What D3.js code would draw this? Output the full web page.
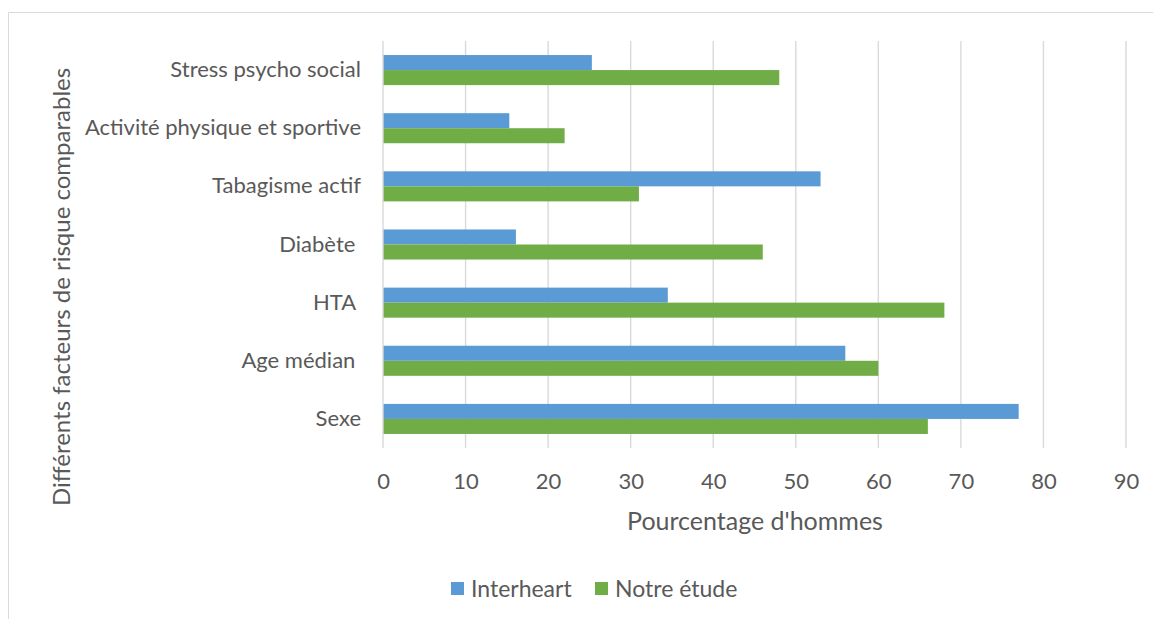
<!DOCTYPE html>
<html>
<head>
<meta charset="utf-8">
<script src="https://cdn.jsdelivr.net/npm/d3@7"></script>
<style>
  html, body { margin: 0; padding: 0; background: #fff; }
  svg text { font-family: Lato, "Open Sans", sans-serif; fill: #595959; white-space: pre; }
</style>
</head>
<body>
<svg id="chart" width="1153" height="619"></svg>
<script>
// Risk factors, top to bottom
const categories = [
  "Stress psycho social",
  "Activité physique et sportive",
  "Tabagisme actif",
  "Diabète ",
  "HTA ",
  "Age médian ",
  "Sexe"
];
// Percentage of men per factor
const interheart = [25.3, 15.3, 53, 16.1, 34.5, 56, 77];
const notreEtude = [48, 22, 31, 46, 68, 60, 66];
const seriesNames = ["Interheart", "Notre étude"];
const seriesColors = ["#5B9BD5", "#70AD47"];
const xTicks = [0, 10, 20, 30, 40, 50, 60, 70, 80, 90];

const svg = d3.select("#chart");
const W = 1153, H = 619;
const m = { left: 383, right: 27, top: 41, bottom: 171 };

// outer frame (top and left edges visible)
svg.append("path")
  .attr("d", `M8.5,${H} V12.5 H${W}`)
  .attr("fill", "none").attr("stroke", "#D9D9D9").attr("stroke-width", 1);

const x = d3.scaleLinear().domain([0, 90]).range([m.left, W - m.right]);
const y = d3.scaleBand().domain(categories)
  .range([m.top, H - m.bottom]).paddingInner(0.483).paddingOuter(0.2415);
const ySub = d3.scaleBand().domain(seriesNames).range([0, y.bandwidth()]);

// vertical gridlines
svg.append("g").selectAll("line").data(xTicks.slice(1)).join("line")
  .attr("x1", d => x(d)).attr("x2", d => x(d))
  .attr("y1", m.top).attr("y2", H - m.bottom)
  .attr("stroke", "#D9D9D9").attr("stroke-width", 1.4);

// bars
const rows = categories.map((c, i) => ({ c, vals: [interheart[i], notreEtude[i]] }));
const g = svg.append("g");
rows.forEach(r => {
  r.vals.forEach((v, j) => {
    g.append("rect")
      .attr("x", x(0))
      .attr("y", y(r.c) + ySub(seriesNames[j]))
      .attr("width", x(v) - x(0))
      .attr("height", ySub.bandwidth())
      .attr("fill", seriesColors[j]);
  });
});

// category axis line
svg.append("line")
  .attr("x1", x(0)).attr("x2", x(0))
  .attr("y1", m.top).attr("y2", H - m.bottom)
  .attr("stroke", "#D9D9D9").attr("stroke-width", 1.4);

// category labels
const yAxis = d3.axisLeft(y).tickSize(0).tickPadding(22);
const yg = svg.append("g").attr("transform", `translate(${x(0)},0)`).call(yAxis);
yg.select(".domain").remove();
yg.selectAll("text").attr("font-size", 22).attr("fill", "#595959")
  .style("font-family", "Lato, 'Open Sans', sans-serif");

// value axis labels
const xAxis = d3.axisBottom(x).tickValues(xTicks).tickSize(0).tickPadding(25);
const xg = svg.append("g").attr("transform", `translate(0,${H - m.bottom})`).call(xAxis);
xg.select(".domain").remove();
xg.selectAll("text").attr("font-size", 22).attr("fill", "#595959")
  .style("font-family", "Lato, 'Open Sans', sans-serif");

// axis titles
svg.append("text")
  .attr("x", 755).attr("y", 530)
  .attr("text-anchor", "middle").attr("font-size", 25)
  .text("Pourcentage d'hommes");

svg.append("text")
  .attr("transform", "translate(70,287) rotate(-90)")
  .attr("text-anchor", "middle").attr("font-size", 24)
  .text("Différents facteurs de risque comparables");

// legend
const legend = svg.append("g");
const legendX = [451, 595];
seriesNames.forEach((s, i) => {
  legend.append("rect")
    .attr("x", legendX[i]).attr("y", 582).attr("width", 13).attr("height", 13)
    .attr("fill", seriesColors[i]);
  legend.append("text")
    .attr("x", legendX[i] + 20).attr("y", 597)
    .attr("font-size", 23)
    .text(s);
});
</script>
</body>
</html>
